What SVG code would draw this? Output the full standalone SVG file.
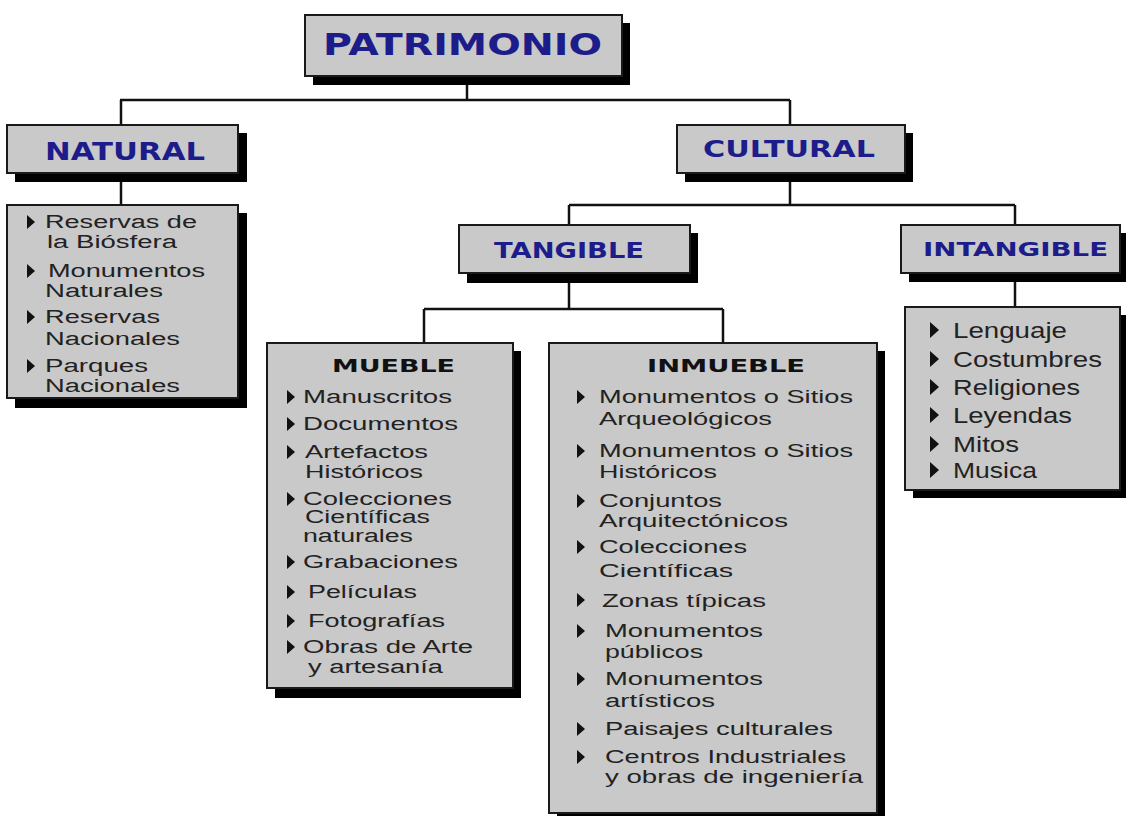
<svg xmlns="http://www.w3.org/2000/svg" width="1126" height="816" viewBox="0 0 1126 816">
<style>
.box{fill:#c9c9c9;stroke:#1a1a1a;stroke-width:2}
.sh{fill:#000}
.hd{font-family:"DejaVu Sans","Liberation Sans",sans-serif;font-weight:bold;fill:#1c1c8a}
.st{font-family:"DejaVu Sans","Liberation Sans",sans-serif;font-weight:bold;fill:#111;font-size:17px}
.it{font-family:"Liberation Sans",Arial,sans-serif;fill:#222;font-size:18px}
.big{font-size:22px}
.cn{stroke:#111;stroke-width:2.5;fill:none}
</style>
<defs>
<path id="b" d="M0,-7 L8,0 L0,7 Z" fill="#111"/>
<path id="bb" d="M0,-8 L9,0 L0,8 Z" fill="#111"/>
</defs>
<g id="connectors">
<path class="cn" d="M467,76 V100 M120,100 H790 M121,100 V125 M790,100 V125 M121,173 V205 M790,173 V205 M569,205 H1015 M569,205 V225 M1015,205 V225 M569,273 V309 M424,309 H723 M424,309 V343 M723,309 V343 M1015,273 V307"/>
</g>
<g id="patrimonio">
<rect class="sh" x="313" y="23" width="317" height="62"/>
<rect class="box" x="305" y="15" width="317" height="61"/>
<text class="hd" x="323" y="55" font-size="31" textLength="279" lengthAdjust="spacingAndGlyphs">PATRIMONIO</text>
</g>
<g id="natural">
<rect class="sh" x="15" y="133" width="232" height="49"/>
<rect class="box" x="7" y="125" width="231" height="48"/>
<text class="hd" x="45" y="160" font-size="25" textLength="160" lengthAdjust="spacingAndGlyphs">NATURAL</text>
</g>
<g id="natural-list">
<rect class="sh" x="15" y="213" width="232" height="195"/>
<rect class="box" x="7" y="205" width="231" height="193"/>
<use href="#b" x="27" y="222"/>
<text class="it" x="45" y="228" font-size="17" textLength="152" lengthAdjust="spacingAndGlyphs">Reservas de</text>
<text class="it" x="47" y="248" font-size="17" textLength="130" lengthAdjust="spacingAndGlyphs">la Biósfera</text>
<use href="#b" x="27" y="271"/>
<text class="it" x="48" y="277" font-size="17" textLength="157" lengthAdjust="spacingAndGlyphs">Monumentos</text>
<text class="it" x="45" y="297" font-size="17" textLength="118" lengthAdjust="spacingAndGlyphs">Naturales</text>
<use href="#b" x="27" y="317"/>
<text class="it" x="45" y="323" font-size="17" textLength="115" lengthAdjust="spacingAndGlyphs">Reservas</text>
<text class="it" x="45" y="345" font-size="17" textLength="135" lengthAdjust="spacingAndGlyphs">Nacionales</text>
<use href="#b" x="27" y="366"/>
<text class="it" x="45" y="372" font-size="17" textLength="103" lengthAdjust="spacingAndGlyphs">Parques</text>
<text class="it" x="45" y="392" font-size="17" textLength="135" lengthAdjust="spacingAndGlyphs">Nacionales</text>
</g>
<g id="cultural">
<rect class="sh" x="685" y="133" width="228" height="49"/>
<rect class="box" x="677" y="125" width="228" height="48"/>
<text class="hd" x="703" y="157" font-size="23" textLength="172" lengthAdjust="spacingAndGlyphs">CULTURAL</text>
</g>
<g id="tangible">
<rect class="sh" x="467" y="233" width="231" height="50"/>
<rect class="box" x="459" y="225" width="231" height="48"/>
<text class="hd" x="494" y="258" font-size="22" textLength="150" lengthAdjust="spacingAndGlyphs">TANGIBLE</text>
</g>
<g id="intangible">
<rect class="sh" x="909" y="233" width="220" height="49"/>
<rect class="box" x="901" y="225" width="219" height="48"/>
<text class="hd" x="923" y="256" font-size="20" textLength="185" lengthAdjust="spacingAndGlyphs">INTANGIBLE</text>
</g>
<g id="intangible-list">
<rect class="sh" x="913" y="315" width="216" height="183"/>
<rect class="box" x="905" y="307" width="215" height="183"/>
<use href="#bb" x="930" y="330"/>
<text class="it big" x="953" y="338" textLength="114" lengthAdjust="spacingAndGlyphs">Lenguaje</text>
<use href="#bb" x="930" y="359"/>
<text class="it big" x="953" y="367" textLength="149" lengthAdjust="spacingAndGlyphs">Costumbres</text>
<use href="#bb" x="930" y="387"/>
<text class="it big" x="953" y="395" textLength="127" lengthAdjust="spacingAndGlyphs">Religiones</text>
<use href="#bb" x="930" y="415"/>
<text class="it big" x="953" y="423" textLength="119" lengthAdjust="spacingAndGlyphs">Leyendas</text>
<use href="#bb" x="930" y="444"/>
<text class="it big" x="953" y="452" textLength="66" lengthAdjust="spacingAndGlyphs">Mitos</text>
<use href="#bb" x="930" y="470"/>
<text class="it big" x="953" y="478" textLength="84" lengthAdjust="spacingAndGlyphs">Musica</text>
</g>
<g id="mueble">
<rect class="sh" x="275" y="351" width="246" height="347"/>
<rect class="box" x="267" y="343" width="246" height="345"/>
<text class="st" x="332" y="372" textLength="123" lengthAdjust="spacingAndGlyphs">MUEBLE</text>
<use href="#b" x="287" y="397"/>
<text class="it" x="303" y="403" textLength="149" lengthAdjust="spacingAndGlyphs">Manuscritos</text>
<use href="#b" x="287" y="424"/>
<text class="it" x="303" y="430" textLength="155" lengthAdjust="spacingAndGlyphs">Documentos</text>
<use href="#b" x="287" y="452"/>
<text class="it" x="305" y="458" textLength="123" lengthAdjust="spacingAndGlyphs">Artefactos</text>
<text class="it" x="305" y="478" textLength="118" lengthAdjust="spacingAndGlyphs">Históricos</text>
<use href="#b" x="287" y="499"/>
<text class="it" x="303" y="505" textLength="149" lengthAdjust="spacingAndGlyphs">Colecciones</text>
<text class="it" x="305" y="523" textLength="125" lengthAdjust="spacingAndGlyphs">Científicas</text>
<text class="it" x="303" y="542" textLength="110" lengthAdjust="spacingAndGlyphs">naturales</text>
<use href="#b" x="287" y="562"/>
<text class="it" x="303" y="568" textLength="155" lengthAdjust="spacingAndGlyphs">Grabaciones</text>
<use href="#b" x="287" y="592"/>
<text class="it" x="308" y="598" textLength="109" lengthAdjust="spacingAndGlyphs">Películas</text>
<use href="#b" x="287" y="621"/>
<text class="it" x="308" y="627" textLength="137" lengthAdjust="spacingAndGlyphs">Fotografías</text>
<use href="#b" x="287" y="647"/>
<text class="it" x="303" y="653" textLength="170" lengthAdjust="spacingAndGlyphs">Obras de Arte</text>
<text class="it" x="308" y="673" textLength="135" lengthAdjust="spacingAndGlyphs">y artesanía</text>
</g>
<g id="inmueble">
<rect class="sh" x="557" y="351" width="328" height="472"/>
<rect class="box" x="549" y="343" width="328" height="470"/>
<text class="st" x="647" y="372" textLength="158" lengthAdjust="spacingAndGlyphs">INMUEBLE</text>
<use href="#b" x="577" y="397"/>
<text class="it" x="599" y="403" textLength="254" lengthAdjust="spacingAndGlyphs">Monumentos o Sitios</text>
<text class="it" x="599" y="425" textLength="173" lengthAdjust="spacingAndGlyphs">Arqueológicos</text>
<use href="#b" x="577" y="451"/>
<text class="it" x="599" y="457" textLength="254" lengthAdjust="spacingAndGlyphs">Monumentos o Sitios</text>
<text class="it" x="599" y="478" textLength="118" lengthAdjust="spacingAndGlyphs">Históricos</text>
<use href="#b" x="577" y="501"/>
<text class="it" x="599" y="507" textLength="123" lengthAdjust="spacingAndGlyphs">Conjuntos</text>
<text class="it" x="599" y="527" textLength="189" lengthAdjust="spacingAndGlyphs">Arquitectónicos</text>
<use href="#b" x="577" y="547"/>
<text class="it" x="599" y="553" textLength="148" lengthAdjust="spacingAndGlyphs">Colecciones</text>
<text class="it" x="599" y="577" textLength="134" lengthAdjust="spacingAndGlyphs">Científicas</text>
<use href="#b" x="577" y="600"/>
<text class="it" x="602" y="607" textLength="164" lengthAdjust="spacingAndGlyphs">Zonas típicas</text>
<use href="#b" x="577" y="631"/>
<text class="it" x="605" y="637" textLength="158" lengthAdjust="spacingAndGlyphs">Monumentos</text>
<text class="it" x="605" y="658" textLength="98" lengthAdjust="spacingAndGlyphs">públicos</text>
<use href="#b" x="577" y="679"/>
<text class="it" x="605" y="685" textLength="158" lengthAdjust="spacingAndGlyphs">Monumentos</text>
<text class="it" x="605" y="707" textLength="110" lengthAdjust="spacingAndGlyphs">artísticos</text>
<use href="#b" x="577" y="729"/>
<text class="it" x="605" y="735" textLength="228" lengthAdjust="spacingAndGlyphs">Paisajes culturales</text>
<use href="#b" x="577" y="757"/>
<text class="it" x="605" y="763" textLength="241" lengthAdjust="spacingAndGlyphs">Centros Industriales</text>
<text class="it" x="605" y="783" textLength="258" lengthAdjust="spacingAndGlyphs">y obras de ingeniería</text>
</g>
</svg>
